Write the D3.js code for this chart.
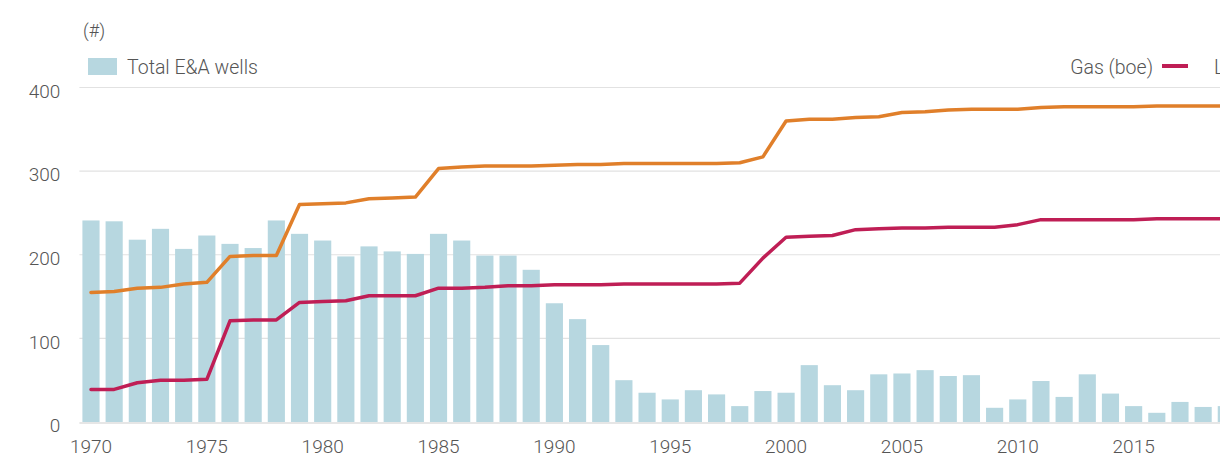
<!DOCTYPE html>
<html>
<head>
<meta charset="utf-8">
<script src="https://cdn.jsdelivr.net/npm/d3@7"></script>
<style>
  body { margin: 0; background: #fff; }
  svg { display: block; font-family: Roboto, "Open Sans", sans-serif; font-weight: 300; }
  .tick text { fill: #555; font-size: 19px; }
</style>
</head>
<body>
<svg id="chart" width="1220" height="460"></svg>
<script>
var years = d3.range(1970, 2020);

// total E&A wells per year (bars)
var wells = [241, 240, 218, 231, 207, 223, 213, 208, 241, 225,
             217, 198, 210, 204, 201, 225, 217, 199, 199, 182,
             142, 123, 92, 50, 35, 27, 38, 33, 19, 37,
             35, 68, 44, 38, 57, 58, 62, 55, 56, 17,
             27, 49, 30, 57, 34, 19, 11, 24, 18, 19];

// cumulative gas (boe) line
var gas = [39, 39, 47, 50, 50, 51, 121, 122, 122, 143,
           144, 145, 151, 151, 151, 160, 160, 161, 163, 163,
           164, 164, 164, 165, 165, 165, 165, 165, 166, 196,
           221, 222, 223, 230, 231, 232, 232, 233, 233, 233,
           236, 242, 242, 242, 242, 242, 243, 243, 243, 243];

// cumulative liquids (boe) line
var liquids = [155, 156, 160, 161, 165, 167, 198, 199, 199, 260,
               261, 262, 267, 268, 269, 303, 305, 306, 306, 306,
               307, 308, 308, 309, 309, 309, 309, 309, 310, 317,
               360, 362, 362, 364, 365, 370, 371, 373, 374, 374,
               374, 376, 377, 377, 377, 377, 378, 378, 378, 378];

var yTicks = [0, 100, 200, 300, 400];
var xTicks = [1970, 1975, 1980, 1985, 1990, 1995, 2000, 2005, 2010, 2015];

var svg = d3.select('#chart');
var step = 23.17;
var left = 79.4;

var x = d3.scaleBand()
  .domain(years)
  .range([left, left + years.length * step])
  .paddingInner(0.26)
  .paddingOuter(0.13);

var y = d3.scaleLinear().domain([0, 400]).range([422, 87.5]);

// gridlines
svg.append('g')
  .selectAll('line')
  .data(yTicks.filter(function(d) { return d > 0; }))
  .enter().append('line')
  .attr('x1', left).attr('x2', 1220)
  .attr('y1', function(d) { return y(d); })
  .attr('y2', function(d) { return y(d); })
  .attr('stroke', '#e2e2e2')
  .attr('stroke-width', 1.2);

// y axis labels
var yAxis = svg.append('g')
  .attr('transform', 'translate(' + (left - 19) + ',0)')
  .call(d3.axisLeft(y).tickValues(yTicks).tickSize(0).tickPadding(0))
  .attr('font-family', null).attr('font-size', null);
yAxis.select('.domain').remove();
yAxis.selectAll('text').attr('dy', '0.35em').attr('y', 3);

// bars
svg.append('g')
  .selectAll('rect')
  .data(years)
  .enter().append('rect')
  .attr('x', function(d) { return x(d); })
  .attr('width', x.bandwidth())
  .attr('y', function(d, i) { return y(wells[i]); })
  .attr('height', function(d, i) { return y(0) - y(wells[i]); })
  .attr('fill', '#b7d7e0');

// baseline
svg.append('line')
  .attr('x1', left).attr('x2', 1220)
  .attr('y1', y(0) + 1).attr('y2', y(0) + 1)
  .attr('stroke', '#e6e6e6')
  .attr('stroke-width', 2);

// x axis labels
var xAxis = svg.append('g')
  .attr('transform', 'translate(0,' + (y(0) + 17) + ')')
  .call(d3.axisBottom(x).tickValues(xTicks).tickSize(0).tickPadding(0))
  .attr('font-family', null).attr('font-size', null);
xAxis.select('.domain').remove();
xAxis.selectAll('text').attr('dy', '0.71em');

// lines
var line = function(vals) {
  return d3.line()
    .x(function(d) { return x(d) + x.bandwidth() / 2; })
    .y(function(d, i) { return y(vals[i]); })(years);
};

svg.append('path')
  .attr('d', line(liquids))
  .attr('fill', 'none')
  .attr('stroke', '#e07f2a')
  .attr('stroke-width', 3.5)
  .attr('stroke-linejoin', 'round')
  .attr('stroke-linecap', 'round');

svg.append('path')
  .attr('d', line(gas))
  .attr('fill', 'none')
  .attr('stroke', '#bf1e55')
  .attr('stroke-width', 3.5)
  .attr('stroke-linejoin', 'round')
  .attr('stroke-linecap', 'round');

// unit label
svg.append('text')
  .attr('x', 83).attr('y', 37)
  .attr('fill', '#555')
  .style('font-size', '18px')
  .text('(#)');

// legend left
svg.append('rect')
  .attr('x', 88).attr('y', 58)
  .attr('width', 29).attr('height', 17)
  .attr('fill', '#b7d7e0');
svg.append('text')
  .attr('x', 127).attr('y', 74)
  .attr('fill', '#555')
  .style('font-size', '19.5px')
  .text('Total E&A wells');

// legend right
svg.append('text')
  .attr('x', 1153).attr('y', 74)
  .attr('text-anchor', 'end')
  .attr('fill', '#555')
  .style('font-size', '19.5px')
  .text('Gas (boe)');
svg.append('line')
  .attr('x1', 1162).attr('x2', 1188)
  .attr('y1', 66).attr('y2', 66)
  .attr('stroke', '#bf1e55')
  .attr('stroke-width', 4);
svg.append('text')
  .attr('x', 1214).attr('y', 74)
  .attr('fill', '#555')
  .style('font-size', '19.5px')
  .text('Liquids (boe)');
</script>
</body>
</html>
